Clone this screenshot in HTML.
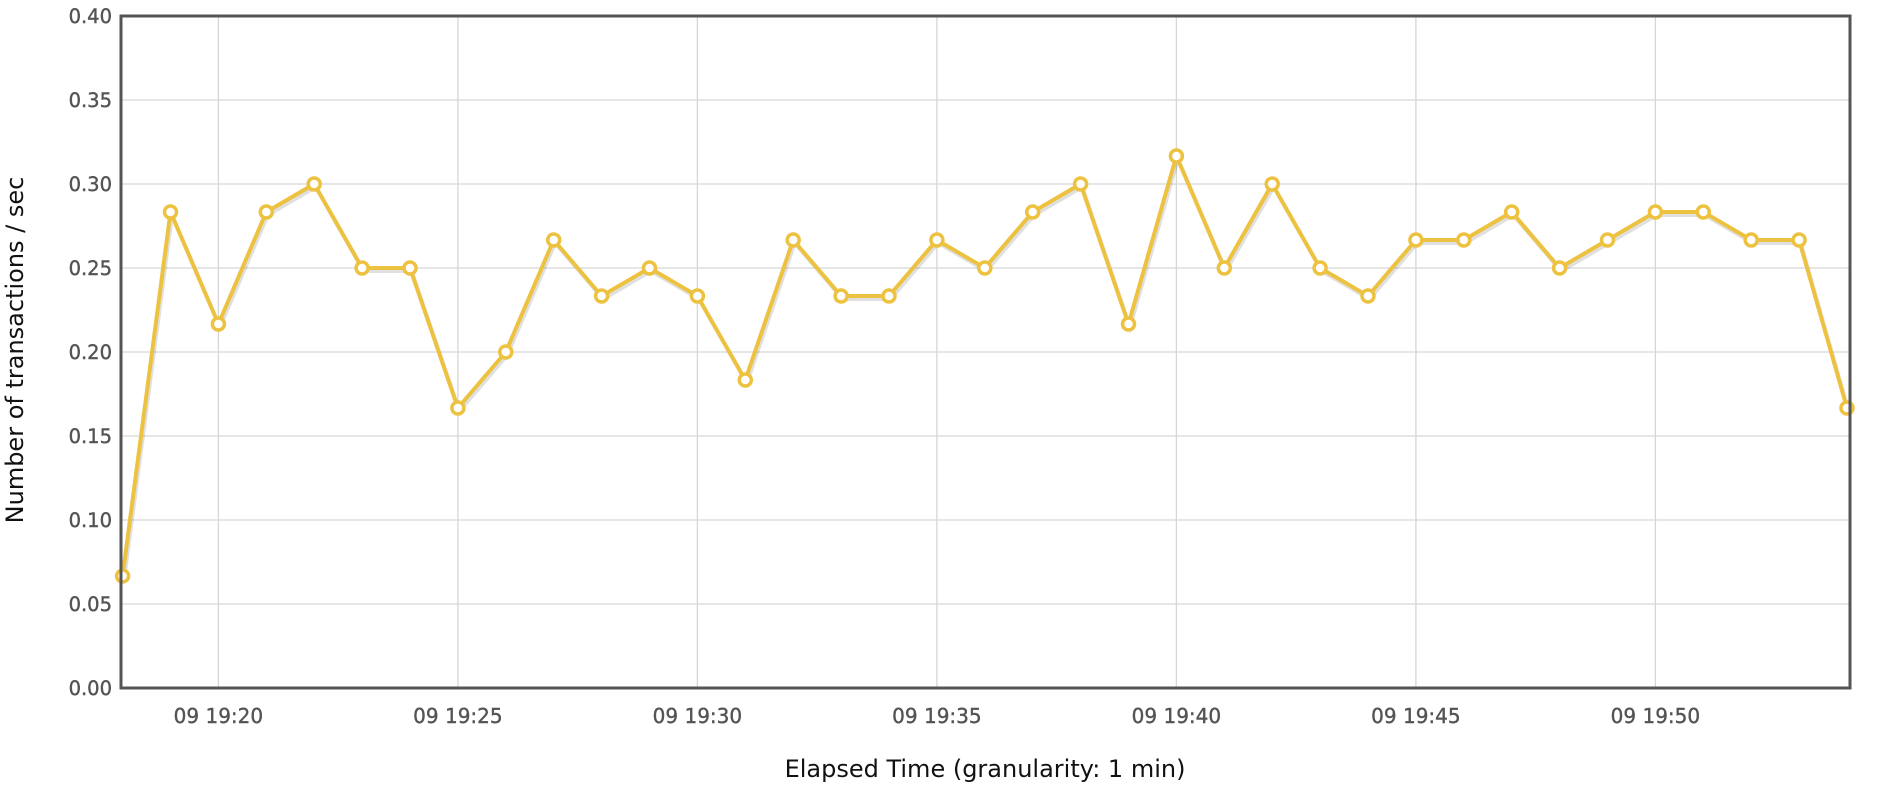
<!DOCTYPE html>
<html><head><meta charset="utf-8"><style>
html,body{margin:0;padding:0;background:#fff;width:1892px;height:800px;overflow:hidden}
svg text{font-family:"DejaVu Sans",sans-serif}
</style></head><body>
<svg id="s" width="1892" height="800" xmlns="http://www.w3.org/2000/svg"></svg>
<script>
var s=document.getElementById('s'),h='';
var L=121,R=1850,T=16,B=688;
for(var i=0;i<=8;i++){var y=B-i*84;
 if(i>0&&i<8)h+='<line x1="'+L+'" x2="'+R+'" y1="'+y+'" y2="'+y+'" stroke="#d6d6d6" stroke-width="1.3"/>';
 h+='<text x="112" y="'+(y+7)+'" text-anchor="end" font-size="19.5" fill="#545454" stroke="#545454" stroke-width="0.4">'+(i*0.05).toFixed(2)+'</text>';}
var labs=['09 19:20','09 19:25','09 19:30','09 19:35','09 19:40','09 19:45','09 19:50'];
for(var j=0;j<7;j++){var x=218.4+j*5*47.9;
 h+='<line x1="'+x+'" x2="'+x+'" y1="'+T+'" y2="'+B+'" stroke="#d6d6d6" stroke-width="1.3"/>';
 h+='<text x="'+x+'" y="723" text-anchor="middle" font-size="20" fill="#545454" stroke="#545454" stroke-width="0.4">'+labs[j]+'</text>';}
var k=[4,17,13,17,18,15,15,10,12,16,14,15,14,11,16,14,14,16,15,17,18,13,19,15,18,15,14,16,16,17,15,16,17,17,16,16,10];
var pts=k.map(function(v,i){return [122.6+47.9*i,B-28*v];});
var p=pts.map(function(q){return q[0].toFixed(1)+','+q[1].toFixed(1)}).join(' ');
var ps=pts.map(function(q){return (q[0]+1.5).toFixed(1)+','+(q[1]+3).toFixed(1)}).join(' ');
h+='<polyline points="'+ps+'" fill="none" stroke="rgba(0,0,0,0.12)" stroke-width="4"/>';
h+='<polyline points="'+p+'" fill="none" stroke="#edc240" stroke-width="4" stroke-linejoin="round"/>';
pts.forEach(function(q){h+='<circle cx="'+q[0]+'" cy="'+q[1]+'" r="6" fill="#fff" stroke="#edc240" stroke-width="3.5"/>';});
h+='<rect x="'+L+'" y="'+T+'" width="'+(R-L)+'" height="'+(B-T)+'" fill="none" stroke="#545454" stroke-width="3"/>';
h+='<text x="985" y="777" text-anchor="middle" font-size="24" fill="#111">Elapsed Time (granularity: 1 min)</text>';
h+='<text transform="translate(23,350) rotate(-90)" text-anchor="middle" font-size="24" fill="#111">Number of transactions / sec</text>';
s.innerHTML=h;
</script>
</body></html>
